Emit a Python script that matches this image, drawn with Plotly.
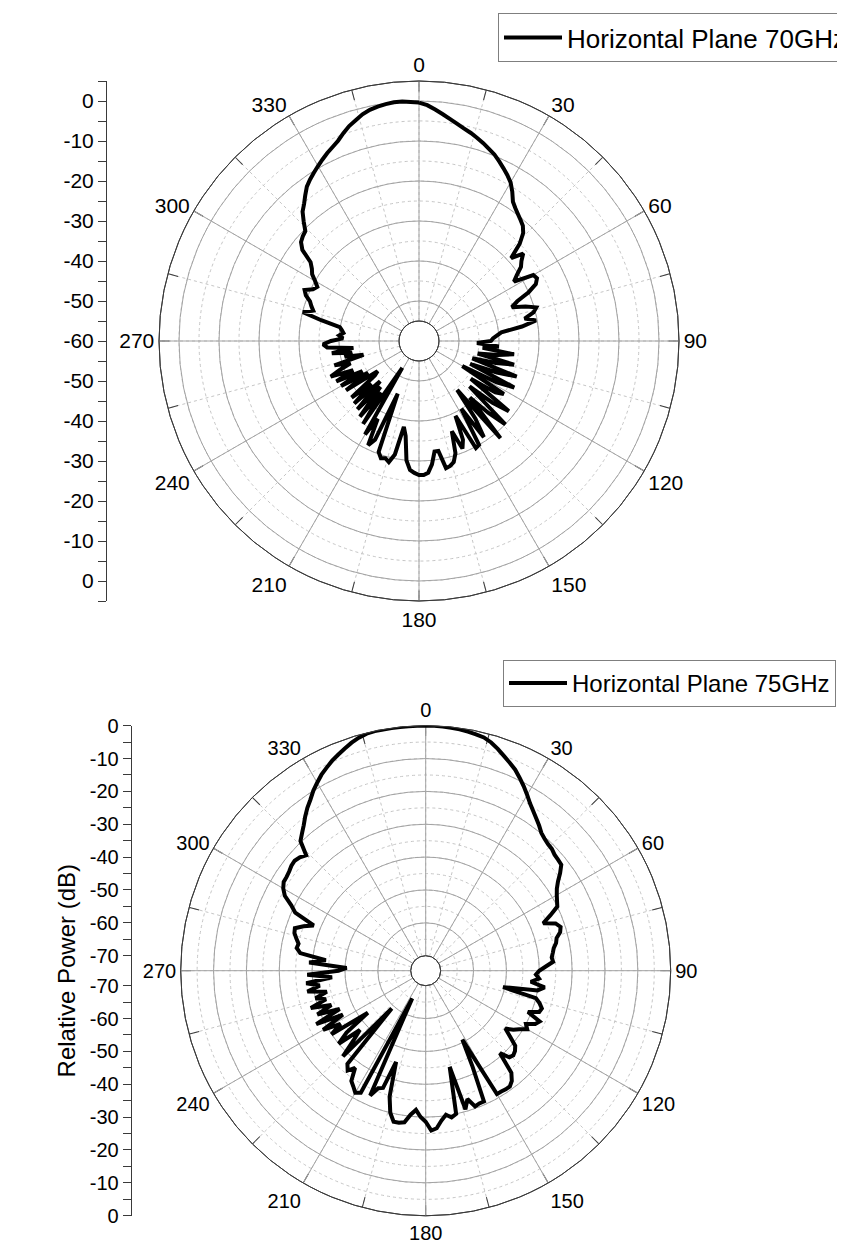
import plotly.graph_objects as go

# ---------------- data ----------------
angles_deg = list(range(0, 360, 2))

power_70ghz_db = [
    -0.4, -1.0, -2.0, -3.0, -4.0, -4.9, -5.7, -6.4, -7.2, -8.0,       # 0-18
    -8.9, -9.7, -10.8, -11.9, -13.0, -14.2, -16.0, -18.0, -19.0, -19.8,  # 20-38
    -20.5, -21.2, -22.5, -25.0, -29.0, -26.0, -27.5, -28.5, -30.5, -32.0,  # 40-58
    -27.0, -26.6, -27.5, -30.0, -33.5, -35.3, -32.0, -29.5, -30.5, -33.0,  # 60-78
    -30.3, -34.0, -39.3, -40.5, -41.5, -42.0, -45.5, -40.0, -44.0, -36.0,  # 80-98
    -40.0, -45.0, -35.5, -40.0, -46.0, -34.0, -39.0, -46.0, -33.5, -38.0,  # 100-118
    -47.5, -35.0, -37.0, -44.0, -31.5, -36.0, -43.0, -30.0, -35.0, -41.0,  # 120-138
    -28.3, -44.5, -36.0, -31.0, -40.0, -30.0, -29.7, -39.2, -33.0, -31.0,  # 140-158
    -36.0, -30.5, -28.5, -27.8, -27.5, -32.1, -32.1, -29.0, -27.0, -26.5,  # 160-178
    -26.5, -27.0, -27.7, -30.0, -36.0, -38.2, -31.0, -28.8, -29.5, -29.2,  # 180-198
    -30.5, -45.8, -33.0, -31.0, -38.0, -33.0, -52.1, -35.0, -44.0, -36.0,  # 200-218
    -45.0, -37.0, -46.0, -37.5, -44.0, -38.0, -46.0, -47.2, -38.0, -45.0,  # 220-238
    -37.5, -44.0, -37.0, -42.0, -36.2, -39.0, -42.0, -38.0, -45.7, -41.0,  # 240-258
    -43.0, -38.0, -43.5, -37.0, -36.0, -38.0, -41.0, -40.0, -41.0, -40.5,  # 260-278
    -39.9, -35.0, -30.1, -32.5, -31.7, -31.0, -29.5, -28.7, -30.5, -31.2,  # 280-298
    -30.0, -28.5, -27.7, -26.5, -23.0, -21.5, -20.9, -20.5, -18.5, -16.5,  # 300-318
    -15.3, -13.8, -12.3, -11.3, -10.4, -9.5, -8.6, -7.7, -6.9, -6.0,     # 320-338
    -4.7, -3.5, -2.6, -1.6, -0.9, -0.5, -0.2, 0.0, 0.0, -0.2,           # 340-358
]

power_75ghz_db = [
    0.0, 0.0, -0.1, -0.2, -0.4, -0.7, -1.0, -1.4, -2.3, -3.6,          # 0-18
    -5.0, -6.3, -7.6, -9.3, -11.0, -12.8, -14.6, -16.0, -17.3, -18.5,   # 20-38
    -19.8, -20.5, -21.0, -21.2, -21.8, -22.0, -22.2, -24.0, -26.0, -27.5,  # 40-58
    -28.5, -29.3, -30.0, -33.0, -36.0, -32.5, -31.4, -32.0, -33.5, -34.0,  # 60-78
    -35.0, -35.5, -36.0, -35.7, -38.0, -40.0, -41.0, -40.0, -42.4, -38.0,  # 80-98
    -40.0, -50.5, -40.0, -38.5, -37.4, -37.8, -41.0, -36.6, -37.5, -40.0,  # 100-118
    -38.9, -41.0, -42.4, -44.6, -42.0, -39.0, -38.0, -37.5, -37.9, -40.8,  # 120-138
    -34.0, -32.0, -31.0, -31.0, -31.2, -31.2, -50.8, -42.0, -31.0, -31.0,  # 140-158
    -30.6, -33.5, -30.7, -44.4, -30.0, -29.2, -30.3, -28.7, -26.5, -25.9,  # 160-178
    -28.6, -30.0, -32.1, -30.5, -28.0, -27.6, -27.6, -30.0, -34.7, -45.4,  # 180-198
    -36.6, -36.0, -33.0, -65.2, -32.5, -31.7, -33.0, -34.1, -38.0, -36.0,  # 200-218
    -37.5, -59.1, -38.3, -44.0, -47.6, -40.0, -44.0, -52.8, -40.0, -44.0,  # 220-238
    -38.5, -46.0, -37.5, -45.9, -39.0, -44.0, -37.8, -43.0, -40.0, -43.8,  # 240-258
    -38.0, -42.0, -38.0, -46.0, -38.5, -48.0, -50.5, -39.0, -44.0, -36.0,  # 260-278
    -34.7, -35.0, -34.0, -33.0, -32.7, -35.0, -37.8, -31.1, -29.0, -26.0,  # 280-298
    -24.5, -23.6, -23.5, -23.2, -22.7, -22.5, -23.0, -24.0, -19.7, -18.3,  # 300-318
    -16.8, -15.0, -13.3, -11.8, -10.0, -8.5, -7.0, -5.8, -4.6, -3.6,    # 320-338
    -2.6, -1.6, -0.8, -0.2, 0.0, 0.0, 0.0, 0.0, 0.0, 0.0,              # 340-358
]

series_names = ["Horizontal Plane 70GHz", "Horizontal Plane 75GHz"]
angle_labels = ["0", "30", "60", "90", "120", "150", "180", "210", "240", "270", "300", "330"]
y_title = "Relative Power (dB)"

# radial scales
top_rmin, top_rmax, top_center_db = -55, 5, -60
bot_rmin, bot_rmax = -70, 0

# ---------------- geometry ----------------
PAGE_OFF = 8                      # default body margin of the page
W, H = 845 - PAGE_OFF, 1259 - PAGE_OFF
FONT = "Liberation Sans, Arial, sans-serif"


def fx(px):
    return (px - PAGE_OFF) / W


def fy(py):
    return 1 - (py - PAGE_OFF) / H


def dom_x(cx, R):
    return [fx(cx - R), fx(cx + R)]


def dom_y(cy, R):
    return [fy(cy + R), fy(cy - R)]


top_c, top_R, top_hole_px = (419, 341), 260, 20
bot_c, bot_R, bot_hole_px = (425.7, 970.7), 245, 15

fig = go.Figure()

# empty traces on the dashed-grid layers so those polar subplots are drawn
fig.add_trace(go.Scatterpolar(r=[], theta=[], subplot="polar", showlegend=False))
fig.add_trace(go.Scatterpolar(r=[], theta=[], subplot="polar3", showlegend=False))

# data traces (on the solid-grid layers)
for name, vals, sub, leg in [
    (series_names[0], power_70ghz_db, "polar2", "legend"),
    (series_names[1], power_75ghz_db, "polar4", "legend2"),
]:
    fig.add_trace(go.Scatterpolar(
        r=vals + vals[:1], theta=angles_deg + angles_deg[:1],
        mode="lines", name=name, subplot=sub, legend=leg,
        line=dict(color="black", width=4), showlegend=True,
    ))

# empty traces so the linear side axes are drawn
fig.add_trace(go.Scatter(x=[], y=[], xaxis="x", yaxis="y", showlegend=False))
fig.add_trace(go.Scatter(x=[], y=[], xaxis="x2", yaxis="y2", showlegend=False))

grid_solid = "#a3a3a3"
grid_dash = "#c6c6c6"
axis_dark = "#3a3a3a"
DASH = "3px,3px"


def polar_pair(c, R, hole_px, rmin, rmax, fsize):
    dom = dict(x=dom_x(c[0], R), y=dom_y(c[1], R))
    hole = hole_px / R
    minor_r = [v for v in range(rmin, rmax + 1, 5)]
    major_r = [v for v in range(rmin, rmax + 1, 5) if v % 10 == 0 or v == rmin]
    under = dict(
        domain=dom, hole=hole, bgcolor="white",
        radialaxis=dict(range=[rmin, rmax], tickvals=minor_r, showticklabels=False,
                        ticks="", showline=False, gridcolor=grid_dash, griddash=DASH,
                        gridwidth=1),
        angularaxis=dict(rotation=90, direction="clockwise",
                         tickvals=list(range(0, 360, 15)), showticklabels=False,
                         ticks="inside", ticklen=10, tickcolor=axis_dark,
                         gridcolor=grid_dash, griddash=DASH, gridwidth=1,
                         showline=True, linecolor=axis_dark, linewidth=1),
    )
    over = dict(
        domain=dom, hole=hole, bgcolor="rgba(0,0,0,0)",
        radialaxis=dict(range=[rmin, rmax], tickvals=major_r, showticklabels=False,
                        ticks="", showline=False, gridcolor=grid_solid, gridwidth=1),
        angularaxis=dict(rotation=90, direction="clockwise",
                         tickvals=list(range(0, 360, 30)), ticktext=angle_labels,
                         tickfont=dict(family=FONT, size=fsize, color="black"), ticks="",
                         gridcolor=grid_solid, gridwidth=1,
                         showline=True, linecolor=axis_dark, linewidth=1),
    )
    return under, over


p1, p2 = polar_pair(top_c, top_R, top_hole_px, top_rmin, top_rmax, 21)
p3, p4 = polar_pair(bot_c, bot_R, bot_hole_px, bot_rmin, bot_rmax, 20)

# linear side axes: coordinate = distance from centre, in dB units
bot_off = bot_hole_px / ((bot_R - bot_hole_px) / (bot_rmax - bot_rmin))


def side_ticks(levels, off, rmin):
    vals, text = [], []
    for lv in levels:
        d = lv - rmin + off
        vals += [d, -d]
        text += [str(lv), str(lv)]
    return vals, text


top_levels = list(range(-60, 1, 10))
top_vals, top_text = side_ticks(top_levels, 0, top_center_db)
top_minor = [d for m in range(-55, 6, 10) for d in (m + 60, -(m + 60))]
bot_levels = list(range(-70, 1, 10))
bot_vals, bot_text = side_ticks(bot_levels, bot_off, bot_rmin)
bot_minor = [d for m in range(-65, 0, 10) for d in (m + 70 + bot_off, -(m + 70 + bot_off))]

top_span = top_rmax - top_center_db
bot_span = bot_rmax - bot_rmin + bot_off

yax_common = dict(showline=True, linecolor=axis_dark, linewidth=1, ticks="outside",
                  ticklen=8, tickwidth=1, tickcolor=axis_dark, showgrid=False,
                  zeroline=False, anchor="free", side="left")

fig.update_layout(
    width=W, height=H, autosize=False,
    margin=dict(l=0, r=0, t=0, b=0, autoexpand=False),
    paper_bgcolor="white", plot_bgcolor="rgba(0,0,0,0)",
    font=dict(family=FONT, color="black"),
    polar=p1, polar2=p2, polar3=p3, polar4=p4,
    xaxis=dict(domain=[0.13, 0.14], visible=False, range=[0, 1]),
    xaxis2=dict(domain=[0.16, 0.17], visible=False, range=[0, 1]),
    yaxis=dict(domain=dom_y(top_c[1], top_R), range=[-top_span, top_span],
               position=fx(106), tickvals=top_vals, ticktext=top_text,
               tickfont=dict(family=FONT, size=21, color="black"),
               minor=dict(tickvals=top_minor, ticks="outside", ticklen=8,
                          tickcolor=axis_dark, showgrid=False),
               **yax_common),
    yaxis2=dict(domain=dom_y(bot_c[1], bot_R), range=[-bot_span, bot_span],
                position=fx(130.7), tickvals=bot_vals, ticktext=bot_text,
                tickfont=dict(family=FONT, size=20, color="black"),
                minor=dict(tickvals=bot_minor, ticks="outside", ticklen=8,
                           tickcolor=axis_dark, showgrid=False),
                title=dict(text=y_title, font=dict(family=FONT, size=24), standoff=6),
                **yax_common),
    legend=dict(x=fx(498), y=fy(13), xanchor="left", yanchor="top",
                bordercolor="#7f7f7f", borderwidth=1, bgcolor="white", itemwidth=58,
                font=dict(family=FONT, size=26, color="black")),
    legend2=dict(x=fx(503), y=fy(660), xanchor="left", yanchor="top",
                 bordercolor="#7f7f7f", borderwidth=1, bgcolor="white", itemwidth=58,
                 font=dict(family=FONT, size=24, color="black")),
)

fig.write_html("out.html")
